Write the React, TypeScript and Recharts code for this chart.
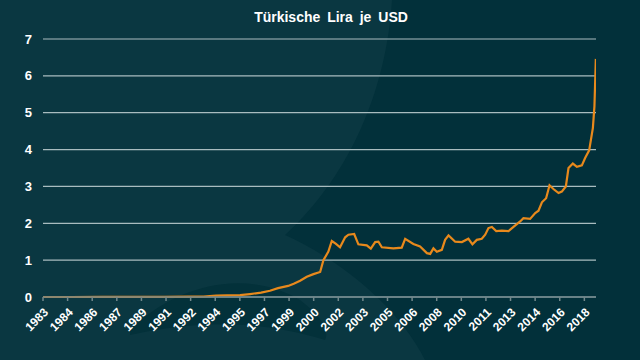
import { LineChart, Line, XAxis, YAxis, CartesianGrid } from "recharts";

// decimal years
const years = [
  1983.17, 1985, 1987, 1989, 1991, 1992.5, 1993.5, 1994.3, 1995, 1995.85,
  1996.49, 1997.2, 1997.77, 1998.29, 1998.94, 1999.3, 1999.71, 2000.14, 2000.57, 2001.0,
  2001.21, 2001.53, 2001.75, 2002.0, 2002.28, 2002.61, 2002.82, 2003.19, 2003.46, 2004.0,
  2004.26, 2004.54, 2004.75, 2004.97, 2005.71, 2006.25, 2006.47, 2007.0, 2007.43, 2007.87,
  2008.08, 2008.29, 2008.51, 2008.83, 2009.04, 2009.26, 2009.69, 2010.12, 2010.54, 2010.8,
  2011.08, 2011.4, 2011.62, 2011.83, 2012.05, 2012.33, 2012.69, 2013.12, 2013.44, 2013.87,
  2014.08, 2014.51, 2014.84, 2015.05, 2015.27, 2015.54, 2015.76, 2016.01, 2016.34, 2016.55,
  2016.81, 2016.98, 2017.26, 2017.52, 2017.84, 2018.05, 2018.31, 2018.55, 2018.65, 2018.74,
];

// TRY per USD
const tryPerUsd = [
  0.0002, 0.0005, 0.0009, 0.002, 0.004, 0.008, 0.014, 0.035, 0.042, 0.05,
  0.08, 0.12, 0.17, 0.24, 0.3, 0.36, 0.44, 0.55, 0.62, 0.68,
  1.0, 1.23, 1.52, 1.45, 1.35, 1.62, 1.69, 1.71, 1.43, 1.4,
  1.31, 1.49, 1.5, 1.35, 1.32, 1.34, 1.58, 1.44, 1.37, 1.19,
  1.17, 1.32, 1.23, 1.28, 1.55, 1.67, 1.5, 1.49, 1.58, 1.43,
  1.55, 1.58, 1.69, 1.87, 1.9, 1.79, 1.8, 1.79, 1.9, 2.05,
  2.14, 2.12, 2.28, 2.34, 2.57, 2.68, 3.03, 2.93, 2.82, 2.86,
  3.0, 3.5, 3.62, 3.53, 3.57, 3.77, 3.98, 4.59, 5.18, 6.46,
];

const tickLabels = [
  "1983", "1984", "1986", "1987", "1989", "1991", "1992", "1994", "1995", "1997",
  "1999", "2000", "2002", "2003", "2005", "2006", "2008", "2010", "2011", "2013",
  "2014", "2016", "2018",
];
const yTicks = [0, 1, 2, 3, 4, 5, 6, 7];

const START = 1983.167;
const END = 2018.75;
const TICK_STEP = 19 / 12; // a label every 19 months

const data = years.map((t, i) => ({ t, v: tryPerUsd[i] }));
const xTicks = tickLabels.map((_, i) => START + i * TICK_STEP);

const FONT = '"Liberation Sans", Arial, sans-serif';

export default function App() {
  return (
    <div
      style={{
        position: "absolute",
        left: 0,
        top: 0,
        width: 640,
        height: 360,
        background: "#0a3741",
        overflow: "hidden",
        fontFamily: FONT,
      }}
    >
      <svg width={640} height={360} style={{ position: "absolute", left: 0, top: 0 }}>
        <path
          d="M392 0 L640 0 L640 360 L425 360 C395 300 330 255 285 235 C335 190 385 110 392 0 Z"
          fill="#02303a"
        />
        <path
          d="M130 330 C170 290 240 265 300 300 C320 315 330 330 325 340 C260 320 200 320 130 335 Z"
          fill="#03313a"
        />
      </svg>
      <div
        style={{
          position: "absolute",
          left: 231,
          width: 200,
          top: 9,
          textAlign: "center",
          color: "#ffffff",
          fontWeight: "bold",
          fontSize: 14,
          wordSpacing: 3,
        }}
      >
        Türkische Lira je USD
      </div>
      <LineChart
        width={640}
        height={360}
        data={data}
        margin={{ top: 39, right: 44, left: 0, bottom: 0 }}
        style={{ position: "absolute", left: 0, top: 0 }}
      >
        <CartesianGrid horizontal vertical={false} stroke="#a9bcbf" strokeWidth={1.2} />
        <XAxis
          dataKey="t"
          type="number"
          domain={[START, END]}
          ticks={xTicks}
          interval={0}
          tickFormatter={(_v: number, i: number) => tickLabels[i]}
          height={63}
          tickSize={4}
          tickMargin={6}
          angle={-45}
          textAnchor="end"
          stroke="#71878b"
          strokeWidth={1.5}
          tick={{ fill: "#ffffff", fontSize: 12, fontWeight: "bold", fontFamily: FONT }}
          allowDataOverflow
        />
        <YAxis
          domain={[0, 7]}
          ticks={yTicks}
          width={43}
          axisLine={false}
          tickLine={false}
          tickSize={6}
          tickMargin={5}
          tick={{ fill: "#ffffff", fontSize: 13, fontWeight: "bold", fontFamily: FONT }}
        />
        <Line
          type="linear"
          dataKey="v"
          stroke="#e8891c"
          strokeWidth={2.2}
          dot={false}
          isAnimationActive={false}
        />
      </LineChart>
    </div>
  );
}
